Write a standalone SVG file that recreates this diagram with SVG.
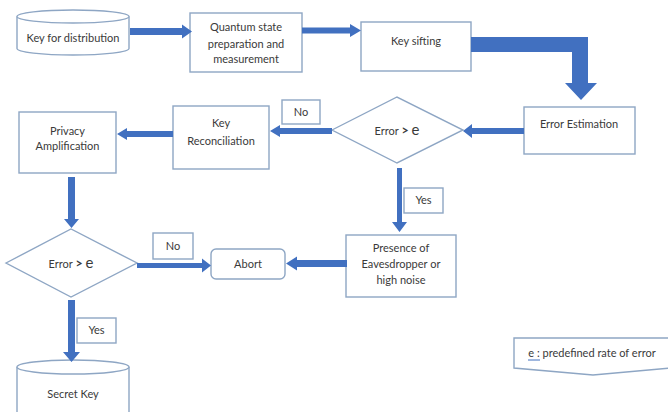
<svg xmlns="http://www.w3.org/2000/svg" width="668" height="412" viewBox="0 0 668 412">
<style>
.box{fill:#fff;stroke:#8ea6c4;stroke-width:1.4}
.t{font-family:Lato,"Open Sans","Liberation Sans",sans-serif;font-size:11px;fill:#3a3a3a;text-anchor:middle}
.big{font-size:15px}
.gt{font-weight:bold;font-size:12.5px}
.arr{fill:#4170c0}
</style>
<rect width="668" height="412" fill="#fff"/>
<g id="key-distribution">
<path class="box" d="M17,16.5 V48.5 A56,6.5 0 0 0 129,48.5 V16.5"/>
<ellipse class="box" cx="73" cy="16.5" rx="56" ry="6.5"/>
<text class="t" x="73" y="42">Key for distribution</text>
</g>
<g id="quantum">
<rect class="box" x="190" y="13" width="112" height="59"/>
<text class="t" x="246" y="31">Quantum state</text>
<text class="t" x="246" y="48">preparation and</text>
<text class="t" x="246" y="63">measurement</text>
</g>
<g id="sifting">
<rect class="box" x="361" y="22" width="110" height="49"/>
<text class="t" x="416" y="45">Key sifting</text>
</g>
<g id="error-estimation">
<rect class="box" x="524" y="107" width="111" height="47"/>
<text class="t" x="579" y="128">Error Estimation</text>
</g>
<g id="decision1">
<polygon class="box" points="332,130 397,97 463,130 397,163"/>
<text class="t" x="397" y="135">Error <tspan class="gt">&gt;</tspan> <tspan class="big">e</tspan></text>
</g>
<g id="reconciliation">
<rect class="box" x="173" y="106" width="96" height="63"/>
<text class="t" x="221" y="127">Key</text>
<text class="t" x="221" y="145">Reconciliation</text>
</g>
<g id="no1">
<rect class="box" x="282" y="100" width="38" height="24"/>
<text class="t" x="301" y="116">No</text>
</g>
<g id="privacy">
<rect class="box" x="19" y="112" width="97" height="61"/>
<text class="t" x="67.5" y="135">Privacy</text>
<text class="t" x="67.5" y="150">Amplification</text>
</g>
<g id="decision2">
<polygon class="box" points="6,263 71,229 137,263 71,297"/>
<text class="t" x="71" y="268">Error <tspan class="gt">&gt;</tspan> <tspan class="big">e</tspan></text>
</g>
<g id="no2">
<rect class="box" x="153" y="233" width="40" height="26"/>
<text class="t" x="173" y="250">No</text>
</g>
<g id="abort">
<rect class="box" x="211" y="249" width="74" height="30" rx="5"/>
<text class="t" x="248" y="268">Abort</text>
</g>
<g id="presence">
<rect class="box" x="346" y="235" width="110" height="62"/>
<text class="t" x="401" y="252">Presence of</text>
<text class="t" x="401" y="268">Eavesdropper or</text>
<text class="t" x="401" y="284">high noise</text>
</g>
<g id="yes1">
<rect class="box" x="404" y="188" width="39" height="25"/>
<text class="t" x="423.5" y="204">Yes</text>
</g>
<g id="yes2">
<rect class="box" x="77" y="318" width="39" height="25"/>
<text class="t" x="96.5" y="334">Yes</text>
</g>
<g id="secret-key">
<path class="box" d="M17,367 V413 M129,367 V413"/>
<ellipse class="box" cx="73" cy="367" rx="56" ry="7"/>
<text class="t" x="73" y="398">Secret Key</text>
</g>
<g id="legend">
<polygon class="box" points="514,338 670,338 670,368 593,375 514,368"/>
<text class="t" x="592" y="357">e : predefined rate of error</text>
<line x1="528" y1="360" x2="540" y2="360" stroke="#4170c0" stroke-width="1"/>
</g>
<g id="connectors">
<polygon class="arr" points="130,28 182,28 182,24.5 192,31.5 182,38.5 182,35 130,35"/>
<polygon class="arr" points="302,27.5 350,27.5 350,24 361,30.5 350,37 350,33.5 302,33.5"/>
<polygon class="arr" points="471,37 588,37 588,83 597,83 581,100 565,83 572,83 572,52 471,52"/>
<polygon class="arr" points="524,128 472,128 472,124 463,131 472,138 472,134 524,134"/>
<polygon class="arr" points="332,128 280,128 280,125 270,131 280,137 280,134 332,134"/>
<polygon class="arr" points="173,131 127,131 127,128 117,134 127,140 127,137 173,137"/>
<polygon class="arr" points="68,177 75,177 75,219 79,219 71.5,228 64,219 68,219"/>
<polygon class="arr" points="137,263 202,263 202,258.5 211,265.5 202,272.5 202,268 137,268"/>
<polygon class="arr" points="347,260 297,260 297,256.5 286,263.5 297,270.5 297,267 347,267"/>
<polygon class="arr" points="397,168 402,168 402,222 407,222 399.5,232 392,222 397,222"/>
<polygon class="arr" points="68,300 75,300 75,352 80,352 71.5,362 63,352 68,352"/>
</g>
</svg>
